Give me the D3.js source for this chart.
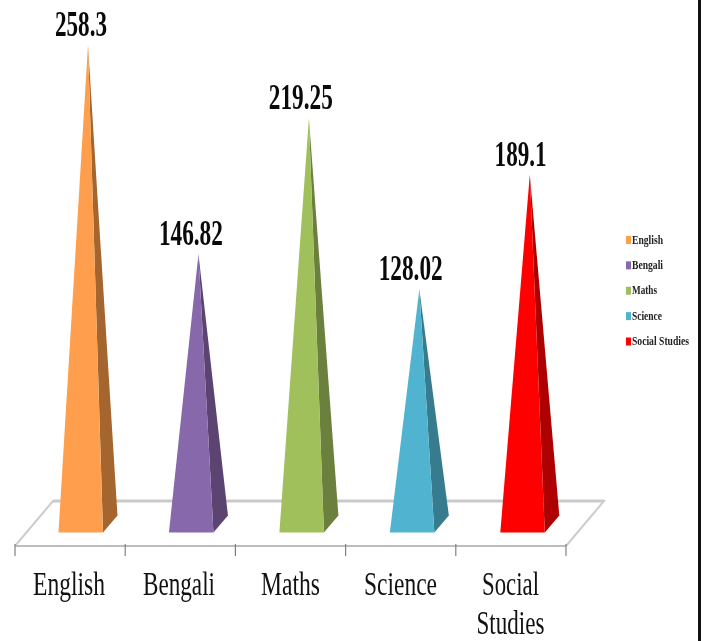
<!DOCTYPE html>
<html><head><meta charset="utf-8">
<script src="https://cdn.jsdelivr.net/npm/d3@7"></script>
<style>html,body{margin:0;padding:0;background:#fff;overflow:hidden}svg{display:block;filter:blur(0.45px)}</style>
</head><body><svg id="c" width="705" height="641"></svg>
<script>
const categories=["English","Bengali","Maths","Science","Social Studies"];
const values=[258.3,146.82,219.25,128.02,189.1];
const valueLabels=["258.3","146.82","219.25","128.02","189.1"];
const frontColors=["#FF9E4C","#8768AB","#A0C05C","#50B4D0","#FF0000"];
const sideColors=["#A4662E","#5B4472","#6B803C","#367C8E","#AE0000"];

const svg=d3.select("#c");
const serif="'Liberation Serif','Times New Roman',serif";
const x=d3.scalePoint().domain(d3.range(categories.length+1)).range([15,566]);
const y=d3.scaleLinear().domain([0,258.3]).range([529,45]);
const line=d3.line();
const depthX=38, depthY=45;
const yFront=546, yBack=yFront-depthY;

// right border
svg.append("line").attr("x1",699.5).attr("x2",699.5).attr("y1",-5).attr("y2",646).attr("stroke","#111").attr("stroke-width",3);

// floor
svg.append("path").attr("d",line([[x(0),yFront],[x(0)+depthX,yBack],[x(5)+depthX,yBack],[x(5),yFront]])).attr("fill","#fff").attr("stroke","#cccccc").attr("stroke-width",2);
svg.append("line").attr("x1",x(0)+depthX).attr("x2",x(5)+depthX).attr("y1",yBack).attr("y2",yBack).attr("stroke","#cacaca").attr("stroke-width",3);
svg.append("line").attr("x1",x(0)).attr("x2",x(5)).attr("y1",yFront).attr("y2",yFront).attr("stroke","#bdbdbd").attr("stroke-width",2);
svg.selectAll(".tick").data(d3.range(6)).join("line").attr("x1",d=>x(d)).attr("x2",d=>x(d)).attr("y1",yFront-2).attr("y2",yFront+10).attr("stroke","#808080").attr("stroke-width",1.2);

// pyramids
const g=svg.selectAll(".p").data(categories).join("g");
const baseY=532.5;
g.each(function(c,i){
  const L=x(i)+43.5+0.25*i, R=L+44.5, BX=R+14.5, BY=baseY-17;
  const apex=[(L+BX)/2,y(values[i])];
  const s=d3.select(this);
  s.append("path").attr("d",line([[R,baseY],[BX,BY],apex])+"Z").attr("fill",sideColors[i]);
  s.append("path").attr("d",line([[L,baseY],[R,baseY],apex])+"Z").attr("fill",frontColors[i]);
  s.append("text").attr("x",x(i)+66-0.3*i).attr("y",apex[1]-9).attr("text-anchor","middle")
   .attr("font-family",serif).attr("font-weight","bold").attr("font-size",35)
   .attr("textLength",i===0||i===4?52:64).attr("lengthAdjust","spacingAndGlyphs").attr("fill","#0a0a0a").text(valueLabels[i]);
});

// category labels
const catLines=[["English"],["Bengali"],["Maths"],["Science"],["Social","Studies"]];
const catW=[[72],[72],[59],[73],[57,68]];
const catX=[69,179,290.5,400.5,510.5];
catLines.forEach((ls,i)=>ls.forEach((t,j)=>{
  svg.append("text").attr("x",catX[i]).attr("y",595+j*38.5).attr("text-anchor","middle")
   .attr("font-family",serif).attr("font-size",34).attr("textLength",catW[i][j]).attr("lengthAdjust","spacingAndGlyphs").attr("fill","#111").text(t);
}));

// legend
const legY=d3.scalePoint().domain(categories).range([240,341.5]);
categories.forEach((c,i)=>{
  svg.append("rect").attr("x",626).attr("y",legY(c)-4).attr("width",5).attr("height",8).attr("fill",frontColors[i]);
  svg.append("text").attr("x",632).attr("y",legY(c)+3.5).attr("font-family",serif).attr("font-weight","bold").attr("font-size",12)
   .attr("textLength",[31,31,25,30,57][i]).attr("lengthAdjust","spacingAndGlyphs").attr("fill","#222").text(c);
});
</script></body></html>
